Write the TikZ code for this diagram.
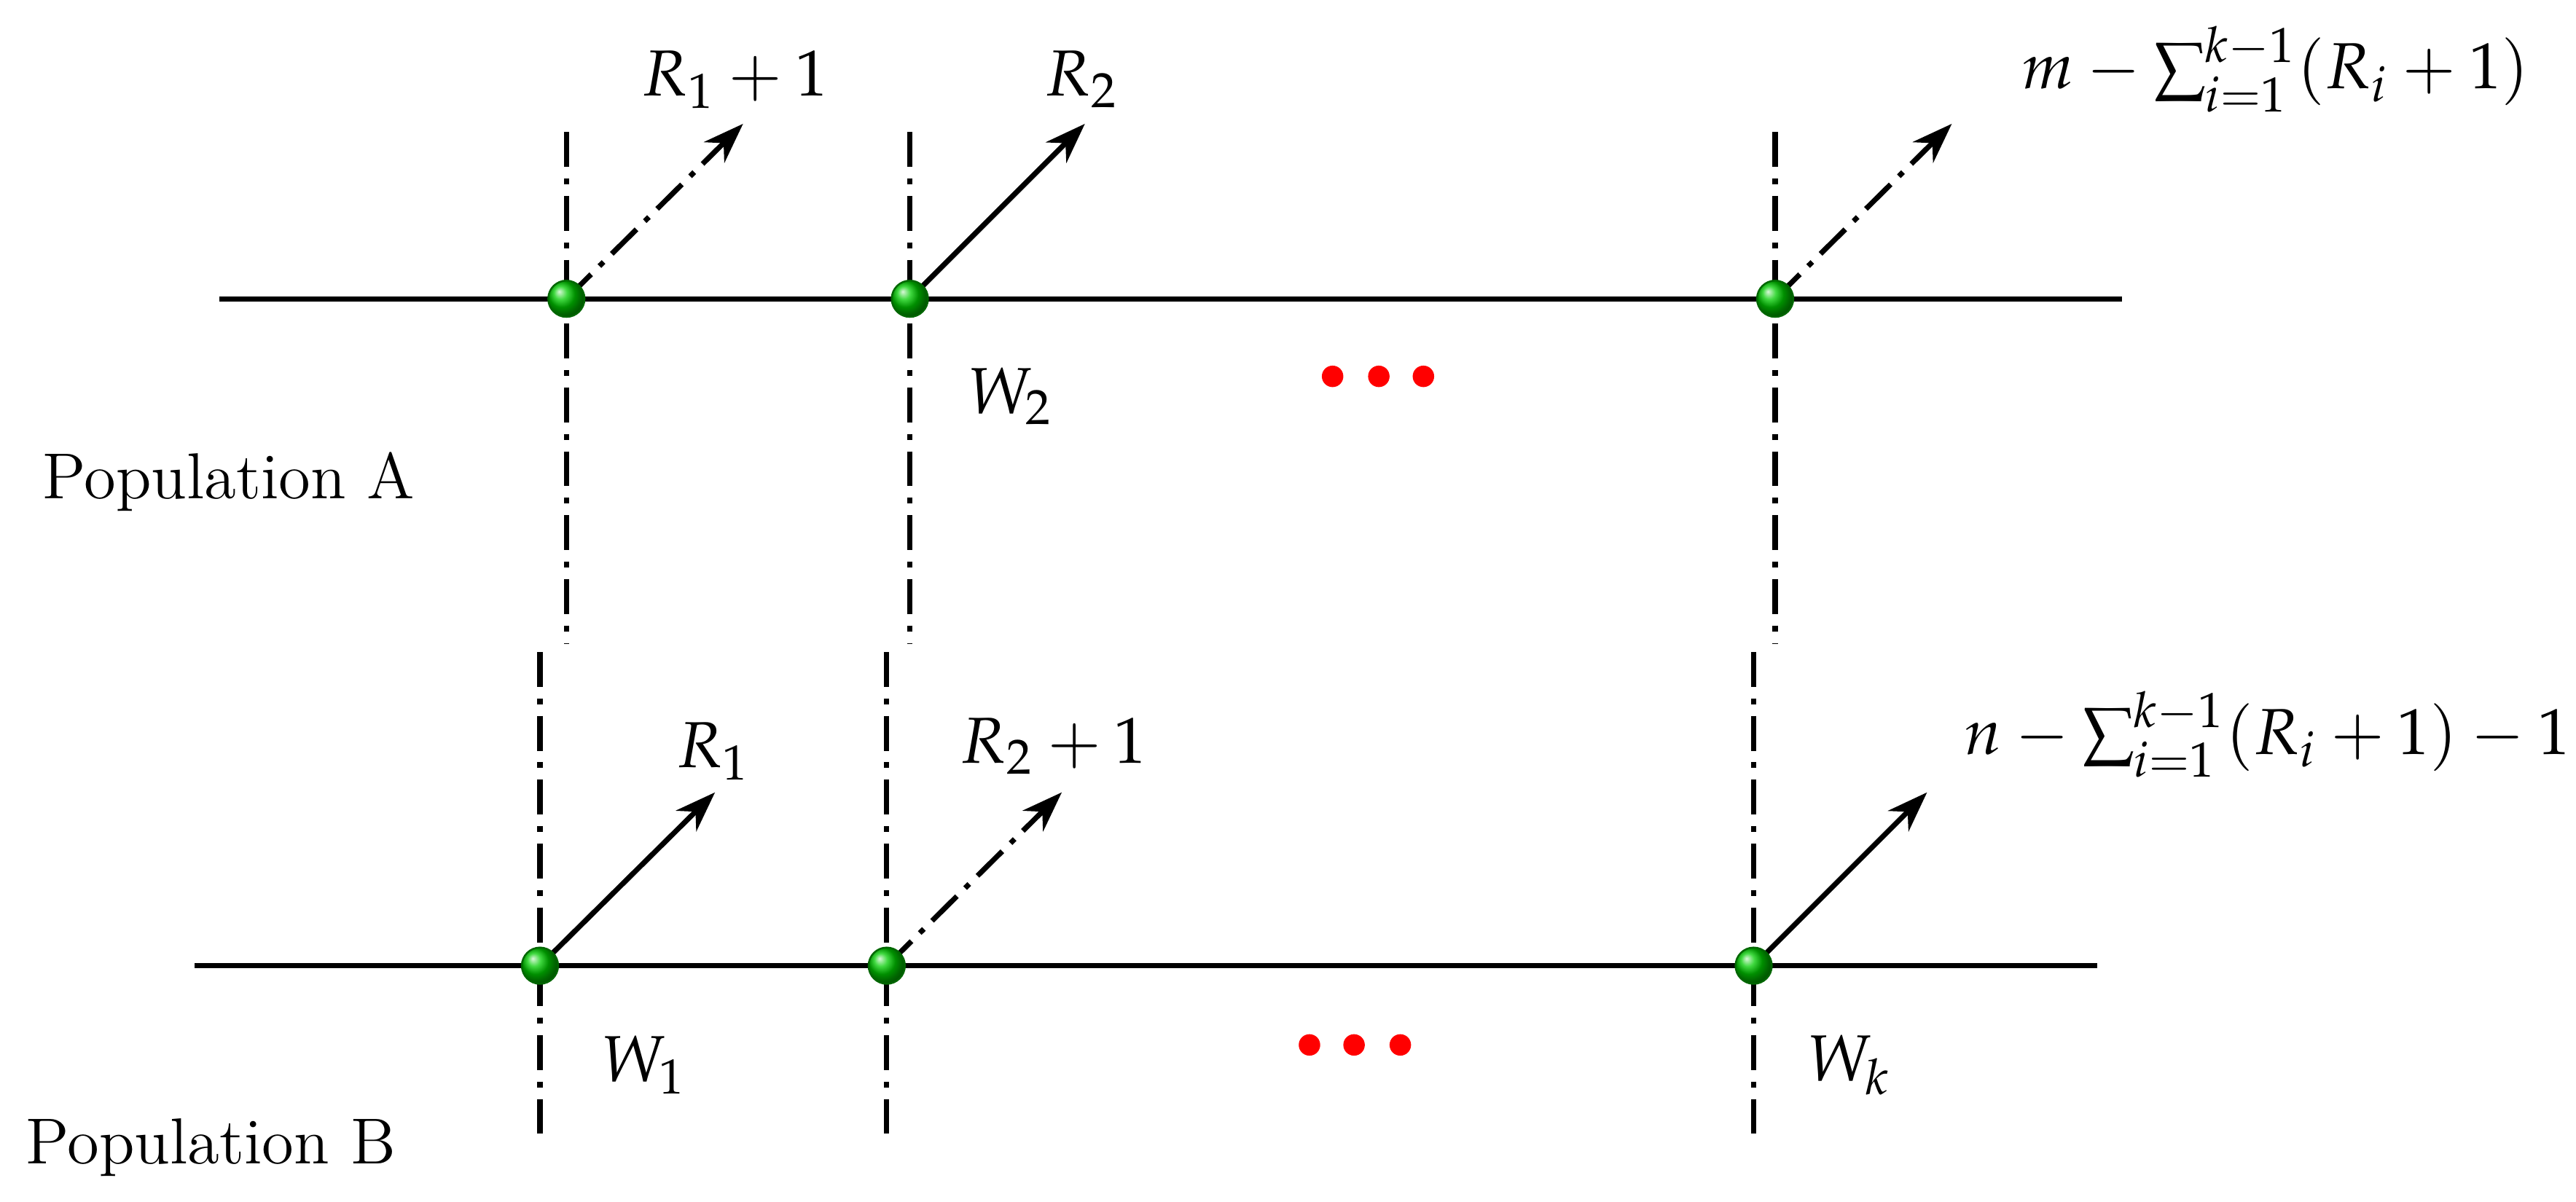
\documentclass[tikz,border=0pt]{standalone}
\usepackage{mathpazo}
\usetikzlibrary{arrows.meta}
\tikzset{
 ball/.style={circle,inner sep=0pt,minimum size=0.22cm,ball color=green!80!black,draw=green!40!black,line width=0.3pt},
 dd/.style={line width=0.9pt,dash pattern=on 6pt off 2pt on 1pt off 2pt},
 base/.style={line width=0.9pt},
 arr/.style={line width=0.9pt,-{Stealth[length=7pt,width=5pt]}},
 rdot/.style={circle,fill=red,inner sep=0pt,minimum size=0.13cm},
 lab/.style={font=\fontsize{11.2}{13}\selectfont},
}
\begin{document}
\begin{tikzpicture}[x=0.01cm,y=-0.01cm]
\useasboundingbox (0,0) rectangle (1560,728);
% top
\coordinate (tl) at (133,181); \coordinate (tr) at (1285,181);
\draw[base] (tl) -- (tr);
\foreach \n/\x in {a/343,b/551,c/1075}{
 \coordinate (t\n u) at (\x,80); \coordinate (t\n d) at (\x,390);
 \draw[dd] (t\n u) -- (t\n d);
}
\coordinate (ea) at (450,75); \coordinate (eb) at (657,75); \coordinate (ec) at (1182,75);
\draw[arr,dd] (343,181) -- (ea);
\draw[arr] (551,181) -- (eb);
\draw[arr,dd] (1075,181) -- (ec);
\node[ball] (ta) at (343,181) {};
\node[ball] (tb) at (551,181) {};
\node[ball] (tc) at (1075,181) {};
\node[lab] (l1) at (445,48) {$R_1+1$};
\node[lab] (l2) at (655,48) {$R_2$};
\node[lab] (l3) at (1378,42) {$m-\sum_{i=1}^{k-1}(R_i+1)$};
\node[lab] (w2) at (612,240) {$W_2$};
\node[rdot] (d1) at (807,228) {}; \node[rdot] (d2) at (835,228) {}; \node[rdot] (d3) at (862,228) {};
\node[lab,anchor=west,inner sep=0pt] (pa) at (25,292) {Population A};
% bottom
\coordinate (bl) at (118,585); \coordinate (br) at (1270,585);
\draw[base] (bl) -- (br);
\foreach \n/\x in {a/327,b/537,c/1062}{
 \coordinate (b\n u) at (\x,395); \coordinate (b\n d) at (\x,690);
 \draw[dd] (b\n u) -- (b\n d);
}
\coordinate (fa) at (433,480); \coordinate (fb) at (643,480); \coordinate (fc) at (1167,480);
\draw[arr] (327,585) -- (fa);
\draw[arr,dd] (537,585) -- (fb);
\draw[arr] (1062,585) -- (fc);
\node[ball] (ba) at (327,585) {};
\node[ball] (bb) at (537,585) {};
\node[ball] (bc) at (1062,585) {};
\node[lab] (m1) at (432,455) {$R_1$};
\node[lab] (m2) at (638,452) {$R_2+1$};
\node[lab] (m3) at (1373,445) {$n-\sum_{i=1}^{k-1}(R_i+1)-1$};
\node[lab] (w1) at (390,645) {$W_1$};
\node[lab] (wk) at (1120,645) {$W_k$};
\node[rdot] (e1) at (793,633) {}; \node[rdot] (e2) at (820,633) {}; \node[rdot] (e3) at (848,633) {};
\node[lab,anchor=west,inner sep=0pt] (pb) at (15,695) {Population B};
\end{tikzpicture}
\end{document}
